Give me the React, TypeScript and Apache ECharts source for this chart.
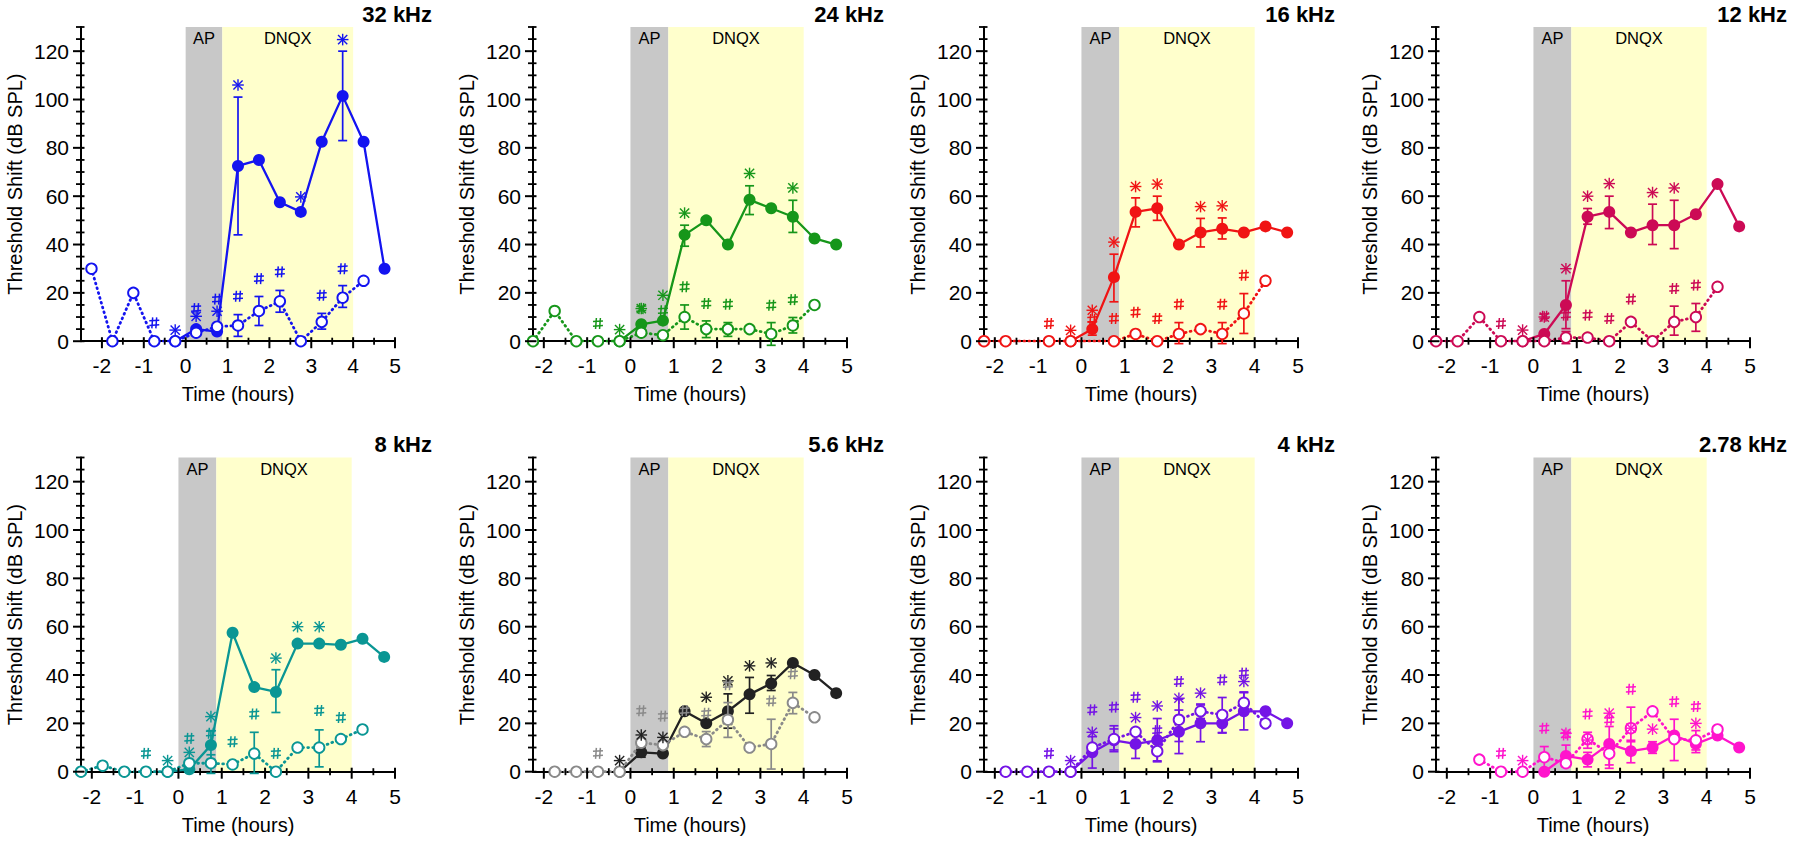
import React, { useEffect, useRef } from "react";
import * as echarts from "echarts";

const n = null;
const FONT = "'Liberation Sans', Arial, Helvetica, sans-serif";

// Shared axes / time points
const TIMES = [-2.25, -1.75, -1.25, -0.75, -0.25, 0.25, 0.75, 1.25, 1.75, 2.25, 2.75, 3.25, 3.75, 4.25, 4.75];
const X_TICKS = [-2, -1, 0, 1, 2, 3, 4, 5];
const X_MINOR = [-1.5, -0.5, 0.5, 1.5, 2.5, 3.5, 4.5];
const Y_TICKS = [0, 20, 40, 60, 80, 100, 120];
const Y_MINOR = [5, 10, 15, 25, 30, 35, 45, 50, 55, 65, 70, 75, 85, 90, 95, 105, 110, 115, 125, 130];
const Y_MAX = 130;
const X_MAX = 5;
const BAND_LABELS = ["AP", "DNQX"];
const BAND_RANGES = [[0, 0.875], [0.875, 4]];
const BAND_COLORS = ["#c8c8c8", "#ffffcc"];

// 32 kHz
const K32_SOLID = [n, n, n, n, 0, 5, 4, 72.5, 75, 57.5, 53.5, 82.5, 101.5, 82.5, 30];
const K32_OPEN = [30, 0, 20, 0, 0, 3.5, 6, 6.5, 12.5, 16.5, 0, 8, 18, 25, n];
const K32_SOLID_LO = [n, n, n, n, n, n, n, 44, n, n, n, n, 83, n, n];
const K32_SOLID_HI = [n, n, n, n, n, n, n, 101, n, n, n, n, 120, n, n];
const K32_OPEN_LO = [n, n, n, n, n, n, n, 2, 6.5, 12, n, 5, 14, n, n];
const K32_OPEN_HI = [n, n, n, n, n, n, n, 11, 18.5, 21, n, 11.5, 23, n, n];
const K32_STAR = [n, n, n, n, 4.6, 10.3, 12.4, 106, n, n, 59.7, n, 124.8, n, n];
const K32_HASH = [n, n, n, 7.6, n, 13.5, 17.4, 18.6, 25.9, 28.7, n, 19, 30, n, n];

// 24 kHz
const K24_SOLID = [n, n, n, n, 0, 7, 8.5, 44, 50, 40, 58.5, 55, 51.5, 42.5, 40];
const K24_OPEN = [0, 12.5, 0, 0, 0, 3.5, 2.5, 10, 5, 5, 5, 3, 6.5, 15, n];
const K24_SOLID_LO = [n, n, n, n, n, n, n, 39.3, n, n, 52.4, n, 45, n, n];
const K24_SOLID_HI = [n, n, n, n, n, n, n, 48, n, n, 64.3, n, 58.3, n, n];
const K24_OPEN_LO = [n, n, n, n, n, n, n, 5, 1.5, 2, n, -1.7, 3.4, n, n];
const K24_OPEN_HI = [n, n, n, n, n, n, n, 15, 8.4, 7.7, n, 7.7, 9.8, n, n];
const K24_STAR = [n, n, n, n, 4.8, 13.5, 19, 53, n, n, 69.4, n, 63.4, n, n];
const K24_HASH = [n, n, n, 7.3, n, 13.5, 12.6, 22.5, 15.6, 15.3, n, 14.9, 17.2, n, n];

// 16 kHz
const K16_SOLID = [n, n, n, n, 0, 5, 26.5, 53.5, 55, 40, 45, 46.5, 45, 47.5, 45];
const K16_OPEN = [0, 0, n, 0, 0, n, 0, 3, 0, 3, 5, 3, 11.5, 25, n];
const K16_SOLID_LO = [n, n, n, n, n, 2.5, 16.3, 47.3, 50, n, 39, 42.3, n, n, n];
const K16_SOLID_HI = [n, n, n, n, n, 8, 36, 59.3, 60, n, 50.8, 51, n, n, n];
const K16_OPEN_LO = [n, n, n, n, n, n, n, n, n, -1, n, -1, 3.2, n, n];
const K16_OPEN_HI = [n, n, n, n, n, n, n, n, n, 7.7, n, 7.7, 19.7, n, n];
const K16_STAR = [n, n, n, n, 4.5, 12.8, 41, 64, 65, n, 55.7, 56, n, n, n];
const K16_HASH = [n, n, n, 7.3, n, 9, 9.4, 12, 9.4, 15.3, n, 15.3, 27.3, n, n];

// 12 kHz
const K12_SOLID = [n, n, n, n, 0, 3, 15, 51.5, 53.5, 45, 48, 48, 52.5, 65, 47.5];
const K12_OPEN = [0, 0, 10, 0, 0, 0, 1.5, 1.5, 0, 8, 0, 8, 10, 22.5, n];
const K12_SOLID_LO = [n, n, n, n, n, n, 5.2, 48.4, 46.6, n, 40, 38.3, n, n, n];
const K12_SOLID_HI = [n, n, n, n, n, n, 25, 54.9, 60, n, 56.7, 58.3, n, n, n];
const K12_OPEN_LO = [n, n, n, n, n, n, -1, n, n, n, n, 2.5, 4.1, n, n];
const K12_OPEN_HI = [n, n, n, n, n, n, 4, n, n, n, n, 14.5, 15.6, n, n];
const K12_STAR = [n, n, n, n, 4.6, 10, 30, 60, 65.2, n, 61.5, 63.4, n, n, n];
const K12_HASH = [n, n, n, 7.3, n, 10.3, 10.8, 10.8, 9.4, 17.4, n, 21.8, 23.2, n, n];

// 8 kHz
const K8_SOLID = [n, n, n, n, 0, 1, 11, 57.5, 35, 33, 53, 53, 52.5, 55, 47.5];
const K8_OPEN = [0, 2.5, 0, 0, 0, 3.5, 3.5, 3, 7.5, 0, 10, 10, 13.5, 17.5, n];
const K8_SOLID_LO = [n, n, n, n, n, n, 5, n, n, 24.5, n, n, n, n, n];
const K8_SOLID_HI = [n, n, n, n, n, n, 17, n, n, 42.2, n, n, n, n, n];
const K8_OPEN_LO = [n, n, n, n, n, n, -0.7, n, -0.7, n, n, 2, n, n, n];
const K8_OPEN_HI = [n, n, n, n, n, n, 7, n, 16.3, n, n, 17.3, n, n, n];
const K8_STAR = [n, n, n, n, 4.6, 8, 22.8, n, n, 47, 60, 60, n, n, n];
const K8_HASH = [n, n, n, 7.6, n, 13.8, 15.9, 12.4, 23.9, 7.6, n, 25.3, 22.4, n, n];

// 5.6 kHz
const K56_SOLID = [n, n, n, n, 0, 8, 7.5, 25, 20, 25, 32, 36.5, 45, 40, 32.5];
const K56_OPEN = [n, 0, 0, 0, 0, 12, 11, 16.5, 13.5, 21.5, 10, 11.5, 28.5, 22.5, n];
const K56_SOLID_LO = [n, n, n, n, n, 6, n, n, n, 18, 24.2, 33.6, n, n, n];
const K56_SOLID_HI = [n, n, n, n, n, 10, n, n, n, 32.2, 39, 39.8, n, n, n];
const K56_OPEN_LO = [n, n, n, n, n, n, n, n, 10.4, 14.2, n, 1.1, 24, n, n];
const K56_OPEN_HI = [n, n, n, n, n, n, n, n, 16.6, 28.6, n, 21.7, 32.8, n, n];
const K56_STAR = [n, n, n, n, 4.6, 15.2, 14.2, n, 30.8, 37.6, 43.8, 45, n, n, n];
const K56_HASH = [n, n, n, 7.6, n, 25.2, 23, 25.3, 24.2, 36, n, 29.3, 40.5, n, n];

// 4 kHz
const K4_SOLID = [n, n, n, n, 0, 8, 13, 11.5, 13, 16.5, 20, 20, 25, 25, 20];
const K4_OPEN = [n, 0, 0, 0, 0, 10, 13.5, 16.5, 8.5, 21.5, 25, 23.5, 28.5, 20, n];
const K4_SOLID_LO = [n, n, n, n, n, 1.5, 8.3, 5.5, 4.1, 7.5, 12.4, 16.2, 17.3, n, n];
const K4_SOLID_HI = [n, n, n, n, n, 14.5, 17.7, 17.5, 22, 25.5, 27.6, 23.8, 32.7, n, n];
const K4_OPEN_LO = [n, n, n, n, n, n, 9, n, 4.5, 12.5, 22, 16, 24, n, n];
const K4_OPEN_HI = [n, n, n, n, n, n, 19, n, 12.5, 30, 28, 30.7, 33, n, n];
const K4_STAR = [n, n, n, n, 4.6, 16.3, n, 22.4, 27.2, 30.4, 32.5, n, 37.3, n, n];
const K4_HASH = [n, n, n, 7.6, n, 25.6, 26.7, 30.8, 17, 37.3, n, 38, 40.8, n, n];

// 2.78 kHz
const K278_SOLID = [n, n, n, n, n, 0, 6.5, 5, 11.5, 8.5, 10, 15, 11.5, 15, 10];
const K278_OPEN = [n, n, 5, 0, 0, 6, 3.5, 13.5, 7.5, 18, 25, 13.5, 13, 17.5, n];
const K278_SOLID_LO = [n, n, n, n, n, n, 2, 2, 1.4, 3.7, 7.6, 4.6, 7.9, n, n];
const K278_SOLID_HI = [n, n, n, n, n, n, 11, 8, 18.7, 13, 12.4, 21.7, 13.5, n, n];
const K278_OPEN_LO = [n, n, n, n, n, 0, n, 9.7, 2.8, 12.4, n, n, 9, n, n];
const K278_OPEN_HI = [n, n, n, n, n, 10.4, n, 16.3, 12, 26.7, n, n, 17, n, n];
const K278_STAR = [n, n, n, n, 4.6, n, 15.9, 13.1, 24.2, 18, 17.6, n, 20, n, n];
const K278_HASH = [n, n, n, 7.6, n, 18, 15.2, 23.9, 21.4, 34.1, n, 29, 27, n, n];

const TITLES = ["32 kHz", "24 kHz", "16 kHz", "12 kHz", "8 kHz", "5.6 kHz", "4 kHz", "2.78 kHz"];
const X_MINS = [-2.5, -2.25, -2.25, -2.25, -2.25, -2.25, -2.25, -2.25];
const SOLID_COLORS = ["#1414f0", "#16961a", "#f01414", "#cc0a55", "#0a9694", "#222222", "#7414e6", "#ff14cc"];
const OPEN_COLORS = ["#1414f0", "#16961a", "#f01414", "#cc0a55", "#0a9694", "#8a8a8a", "#7414e6", "#ff14cc"];

const PANELS = [
  [K32_SOLID, K32_OPEN, K32_SOLID_LO, K32_SOLID_HI, K32_OPEN_LO, K32_OPEN_HI, K32_STAR, K32_HASH],
  [K24_SOLID, K24_OPEN, K24_SOLID_LO, K24_SOLID_HI, K24_OPEN_LO, K24_OPEN_HI, K24_STAR, K24_HASH],
  [K16_SOLID, K16_OPEN, K16_SOLID_LO, K16_SOLID_HI, K16_OPEN_LO, K16_OPEN_HI, K16_STAR, K16_HASH],
  [K12_SOLID, K12_OPEN, K12_SOLID_LO, K12_SOLID_HI, K12_OPEN_LO, K12_OPEN_HI, K12_STAR, K12_HASH],
  [K8_SOLID, K8_OPEN, K8_SOLID_LO, K8_SOLID_HI, K8_OPEN_LO, K8_OPEN_HI, K8_STAR, K8_HASH],
  [K56_SOLID, K56_OPEN, K56_SOLID_LO, K56_SOLID_HI, K56_OPEN_LO, K56_OPEN_HI, K56_STAR, K56_HASH],
  [K4_SOLID, K4_OPEN, K4_SOLID_LO, K4_SOLID_HI, K4_OPEN_LO, K4_OPEN_HI, K4_STAR, K4_HASH],
  [K278_SOLID, K278_OPEN, K278_SOLID_LO, K278_SOLID_HI, K278_OPEN_LO, K278_OPEN_HI, K278_STAR, K278_HASH],
];

// Layout
const COL_LEFT = [81, 533, 984, 1436];
const ROW_TOP = [27, 457.5];
const PLOT_W = 314;
const PLOT_H = 314.2;

const pts = (vals: (number | null)[]) =>
  TIMES.map((t, i) => (vals[i] == null ? null : [t, vals[i] as number])).filter(Boolean) as number[][];
const errs = (lo: (number | null)[], hi: (number | null)[]) =>
  TIMES.map((t, i) => (lo[i] == null || hi[i] == null ? null : [t, lo[i] as number, hi[i] as number])).filter(
    Boolean
  ) as number[][];

const errRender = (color: string) => (params: any, api: any) => {
  const x = api.value(0);
  const a = api.coord([x, api.value(2)]);
  const b = api.coord([x, api.value(1)]);
  const w = 4.5;
  const style = { stroke: color, lineWidth: 1.7 };
  return {
    type: "group",
    children: [
      { type: "line", shape: { x1: a[0], y1: a[1], x2: b[0], y2: b[1] }, style },
      { type: "line", shape: { x1: a[0] - w, y1: a[1], x2: a[0] + w, y2: a[1] }, style },
      { type: "line", shape: { x1: b[0] - w, y1: b[1], x2: b[0] + w, y2: b[1] }, style },
    ],
  };
};

const starRender = (color: string) => (params: any, api: any) => {
  const p = api.coord([api.value(0), api.value(1)]);
  const r = 5.8;
  const d = 4.6;
  const style = { stroke: color, lineWidth: 1.4 };
  return {
    type: "group",
    children: [
      { type: "line", shape: { x1: p[0], y1: p[1] - r, x2: p[0], y2: p[1] + r }, style },
      { type: "line", shape: { x1: p[0] - r, y1: p[1], x2: p[0] + r, y2: p[1] }, style },
      { type: "line", shape: { x1: p[0] - d, y1: p[1] - d, x2: p[0] + d, y2: p[1] + d }, style },
      { type: "line", shape: { x1: p[0] - d, y1: p[1] + d, x2: p[0] + d, y2: p[1] - d }, style },
    ],
  };
};

const hashRender = (color: string) => (params: any, api: any) => {
  const p = api.coord([api.value(0), api.value(1)]);
  const style = { stroke: color, lineWidth: 1.5 };
  const h = 5.5;
  const w = 5;
  return {
    type: "group",
    children: [
      { type: "line", shape: { x1: p[0] - 1.6, y1: p[1] - h, x2: p[0] - 2.4, y2: p[1] + h }, style },
      { type: "line", shape: { x1: p[0] + 2.4, y1: p[1] - h, x2: p[0] + 1.6, y2: p[1] + h }, style },
      { type: "line", shape: { x1: p[0] - w, y1: p[1] - 2, x2: p[0] + w, y2: p[1] - 2.6 }, style },
      { type: "line", shape: { x1: p[0] - w, y1: p[1] + 2.6, x2: p[0] + w, y2: p[1] + 2 }, style },
    ],
  };
};

const bandRender = (params: any, api: any) => {
  const i = params.dataIndex;
  const p0 = api.coord([api.value(0), Y_MAX]);
  const p1 = api.coord([api.value(1), 0]);
  return {
    type: "group",
    children: [
      {
        type: "rect",
        shape: { x: p0[0], y: p0[1], width: p1[0] - p0[0], height: p1[1] - p0[1] },
        style: { fill: BAND_COLORS[i] },
      },
      {
        type: "text",
        x: (p0[0] + p1[0]) / 2,
        y: p0[1] + 11,
        style: {
          text: BAND_LABELS[i],
          align: "center",
          verticalAlign: "middle",
          fontSize: 16.5,
          fontFamily: FONT,
          fill: "#000",
        },
      },
    ],
  };
};

// Tick marks that cross the axis line, placed through the axis scale
const xTickRender = (up: number, down: number, width: number) => (params: any, api: any) => {
  const p = api.coord([api.value(0), 0]);
  return {
    type: "line",
    shape: { x1: p[0], y1: p[1] - up, x2: p[0], y2: p[1] + down },
    style: { stroke: "#000", lineWidth: width },
  };
};
const yTickRender = (left: number, right: number, width: number, xMin: number) => (params: any, api: any) => {
  const p = api.coord([xMin, api.value(1)]);
  return {
    type: "line",
    shape: { x1: p[0] - left, y1: p[1], x2: p[0] + right, y2: p[1] },
    style: { stroke: "#000", lineWidth: width },
  };
};

function buildOption() {
  const grid: any[] = [];
  const xAxis: any[] = [];
  const yAxis: any[] = [];
  const series: any[] = [];
  const title: any[] = [];

  PANELS.forEach((arr, i) => {
    const [solid, open, sLo, sHi, oLo, oHi, star, hash] = arr;
    const col = i % 4;
    const row = Math.floor(i / 4);
    const left = COL_LEFT[col];
    const top = ROW_TOP[row];
    grid.push({ left, top, width: PLOT_W, height: PLOT_H, containLabel: false });
    title.push({
      text: TITLES[i],
      right: 1800 - (left + PLOT_W + 37),
      top: top - 24,
      padding: 0,
      textStyle: { fontSize: 22, fontWeight: "bold", color: "#000", fontFamily: FONT },
    });
    const xMin = X_MINS[i];
    xAxis.push({
      gridIndex: i,
      type: "value",
      position: "bottom",
      min: xMin,
      max: X_MAX,
      axisLine: { onZero: false, lineStyle: { color: "#000", width: 2 } },
      axisTick: { show: false },
      splitLine: { show: false },
      axisLabel: { customValues: X_TICKS, fontSize: 21, color: "#000", margin: 14, fontFamily: FONT },
      name: "Time (hours)",
      nameLocation: "middle",
      nameGap: 43,
      nameTextStyle: { fontSize: 20, color: "#000", fontFamily: FONT },
    });
    yAxis.push({
      gridIndex: i,
      type: "value",
      position: "left",
      min: 0,
      max: Y_MAX,
      axisLine: { onZero: false, lineStyle: { color: "#000", width: 2 } },
      axisTick: { show: false },
      splitLine: { show: false },
      axisLabel: { customValues: Y_TICKS, fontSize: 21, color: "#000", margin: 12, fontFamily: FONT },
      name: "Threshold Shift (dB SPL)",
      nameLocation: "middle",
      nameGap: 56,
      nameTextStyle: { fontSize: 20, color: "#000", fontFamily: FONT },
    });
    const sc = SOLID_COLORS[i];
    const oc = OPEN_COLORS[i];
    const common = { xAxisIndex: i, yAxisIndex: i, silent: true };
    series.push(
      {
        ...common,
        type: "custom",
        renderItem: bandRender,
        data: BAND_RANGES,
        encode: { x: [0, 1] },
        z: 0,
      },
      {
        ...common,
        type: "custom",
        renderItem: xTickRender(4, 7, 2),
        data: X_TICKS.map((v) => [v, 0]),
        encode: { x: 0, y: 1 },
        clip: false,
        z: 7,
      },
      {
        ...common,
        type: "custom",
        renderItem: xTickRender(3.5, 3.5, 1.8),
        data: X_MINOR.map((v) => [v, 0]),
        encode: { x: 0, y: 1 },
        clip: false,
        z: 7,
      },
      {
        ...common,
        type: "custom",
        renderItem: yTickRender(8, 3.5, 2, xMin),
        data: Y_TICKS.map((v) => [xMin, v]),
        encode: { x: 0, y: 1 },
        clip: false,
        z: 7,
      },
      {
        ...common,
        type: "custom",
        renderItem: yTickRender(5, 3.5, 1.8, xMin),
        data: Y_MINOR.map((v) => [xMin, v]),
        encode: { x: 0, y: 1 },
        clip: false,
        z: 7,
      },
      {
        ...common,
        type: "custom",
        renderItem: errRender(sc),
        data: errs(sLo, sHi),
        encode: { x: 0, y: [1, 2] },
        z: 2,
      },
      {
        ...common,
        type: "line",
        data: pts(solid),
        symbol: "circle",
        symbolSize: 12,
        itemStyle: { color: sc },
        lineStyle: { color: sc, width: 2.3 },
        z: 3,
      },
      {
        ...common,
        type: "custom",
        renderItem: errRender(oc),
        data: errs(oLo, oHi),
        encode: { x: 0, y: [1, 2] },
        z: 4,
      },
      {
        ...common,
        type: "line",
        data: pts(open),
        symbol: "circle",
        symbolSize: 10.5,
        itemStyle: { color: "#fff", borderColor: oc, borderWidth: 1.9 },
        lineStyle: { color: oc, width: 2.8, type: [0.8, 4.2], cap: "round" },
        z: 5,
      },
      {
        ...common,
        type: "custom",
        renderItem: starRender(sc),
        data: pts(star),
        encode: { x: 0, y: 1 },
        z: 6,
      },
      {
        ...common,
        type: "custom",
        renderItem: hashRender(oc),
        data: pts(hash),
        encode: { x: 0, y: 1 },
        z: 6,
      }
    );
  });

  return {
    animation: false,
    backgroundColor: "#fff",
    textStyle: { fontFamily: FONT },
    title,
    grid,
    xAxis,
    yAxis,
    series,
  };
}

export default function App() {
  const ref = useRef<HTMLDivElement>(null);
  useEffect(() => {
    if (!ref.current) return;
    const chart = echarts.init(ref.current, undefined, { renderer: "svg" });
    chart.setOption(buildOption() as any);
    return () => chart.dispose();
  }, []);
  return (
    <div
      ref={ref}
      style={{ position: "fixed", left: 0, top: 0, width: 1800, height: 842, background: "#fff" }}
    />
  );
}
